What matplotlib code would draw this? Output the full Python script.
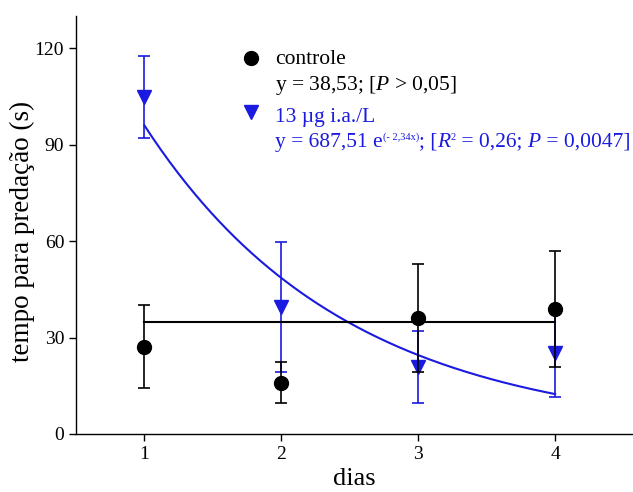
import numpy as np
import matplotlib
matplotlib.use("Agg")
import matplotlib.pyplot as plt

# ---- data ----
dias = [1, 2, 3, 4]
ctrl_mean = [27.2, 16.0, 36.2, 38.9]
ctrl_err = [12.9, 6.5, 16.8, 18.0]
trt_mean = [104.9, 39.5, 20.9, 25.2]
trt_err = [12.7, 20.2, 11.2, 13.6]
ctrl_fit_level = 34.9          # horizontal line for controle
trt_fit_a = 189.9              # exponential fit drawn: a*exp(-b*x)
trt_fit_b = 0.682
xticks = [1, 2, 3, 4]
yticks = [0, 30, 60, 90, 120]

BLUE = "#1a1ae0"
plt.rcParams["font.family"] = ["Liberation Serif", "DejaVu Serif"]
plt.rcParams["mathtext.fontset"] = "custom"
plt.rcParams["mathtext.rm"] = "Liberation Serif"
plt.rcParams["mathtext.it"] = "Liberation Serif:italic"

fig = plt.figure(figsize=(6.33, 4.92), dpi=100)
ax = fig.add_axes([0.120, 0.118, 0.878, 0.849])

# fitted curves
xf = np.linspace(dias[0], dias[-1], 200)
ax.plot(xf, trt_fit_a * np.exp(-trt_fit_b * xf), color=BLUE, lw=1.5, zorder=2)
ax.plot([dias[0], dias[-1]], [ctrl_fit_level] * 2, color="black", lw=1.5, zorder=3)

# treatment
ax.errorbar(dias, trt_mean, yerr=trt_err, fmt="v", color=BLUE, ms=10,
            capsize=4.5, elinewidth=1.2, capthick=1.2, zorder=2)
# control
ax.errorbar(dias, ctrl_mean, yerr=ctrl_err, fmt="o", color="black", ms=10,
            capsize=4.5, elinewidth=1.2, capthick=1.2, zorder=4)

ax.set_xlim(0.5, 4.56)
ax.set_ylim(0, 130)
ax.set_xticks(xticks)
ax.set_yticks(yticks)
ax.tick_params(labelsize=14, length=5, width=1, direction="out")
for s in ["top", "right"]:
    ax.spines[s].set_visible(False)
for s in ["left", "bottom"]:
    ax.spines[s].set_linewidth(1)
ax.set_xlabel("dias", fontsize=19, labelpad=4)
ax.set_ylabel("tempo para predação (s)", fontsize=19.5)
ax.yaxis.set_label_coords(-0.074, 0.485)

# legend-like annotation
FS = 15.5
TX = 1.955
ax.plot([1.78], [117.0], "o", color="black", ms=10, clip_on=False)
ax.text(TX, 115.1, "controle", fontsize=FS, va="baseline")
ax.text(TX, 107.0, "y = 38,53; [$P$ > 0,05]", fontsize=FS, va="baseline")
ax.plot([1.78], [100.3], "v", color=BLUE, ms=10, clip_on=False)
ax.text(TX, 97.2, "13 µg i.a./L", fontsize=FS, va="baseline", color=BLUE)

# equation line built from pieces (main text, superscripts, italics)
SUP = 7.5
RAISE = 6.8
pieces = [
    ("y = 687,51 e", FS, "normal", 0),
    ("(- 2,34x)", SUP, "normal", RAISE),
    ("; [", FS, "normal", 0),
    ("R", FS, "italic", 0),
    ("2", SUP, "normal", RAISE),
    (" = 0,26; ", FS, "normal", 0),
    ("P", FS, "italic", 0),
    (" = 0,0047]", FS, "normal", 0),
]
first = ax.text(TX, 89.4, pieces[0][0], fontsize=pieces[0][1],
                style=pieces[0][2], color=BLUE, va="baseline")
fig.canvas.draw()
prev, prev_dy = first, 0.0
for txt, size, style, dy in pieces[1:]:
    a = ax.annotate(txt, xy=(1, 0), xycoords=prev,
                    xytext=(0, dy - prev_dy), textcoords="offset points",
                    fontsize=size, style=style, color=BLUE,
                    ha="left", va="bottom")
    prev, prev_dy = a, dy

fig.savefig("out.png", dpi=100)
